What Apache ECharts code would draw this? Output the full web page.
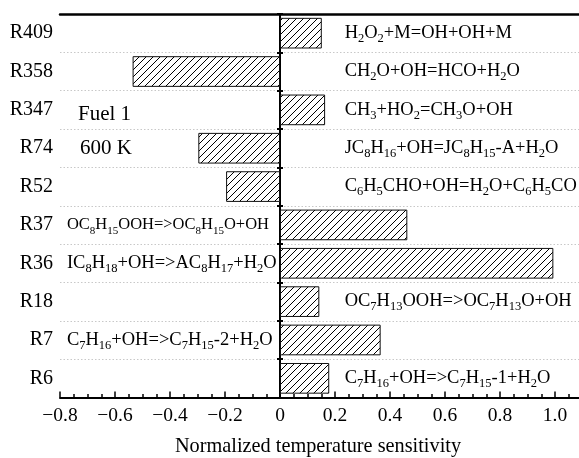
<!DOCTYPE html>
<html>
<head>
<meta charset="utf-8">
<script src="https://cdn.jsdelivr.net/npm/echarts@6/dist/echarts.min.js"></script>
<style>
  html, body { margin: 0; padding: 0; background: #fff; }
  #chart { width: 579px; height: 458px; }
</style>
</head>
<body>
<div id="chart"></div>
<script>
// Reaction labels, top to bottom
const reactions = ['R409', 'R358', 'R347', 'R74', 'R52', 'R37', 'R36', 'R18', 'R7', 'R6'];
// Normalized temperature sensitivity of each reaction
const sensitivity = [0.152, -0.536, 0.164, -0.297, -0.196, 0.463, 0.994, 0.143, 0.366, 0.179];
// Reaction equations ({s|..} marks a subscript)
const equations = [
  'H{s|2}O{s|2}+M=OH+OH+M',
  'CH{s|2}O+OH=HCO+H{s|2}O',
  'CH{s|3}+HO{s|2}=CH{s|3}O+OH',
  'JC{s|8}H{s|16}+OH=JC{s|8}H{s|15}-A+H{s|2}O',
  'C{s|6}H{s|5}CHO+OH=H{s|2}O+C{s|6}H{s|5}CO',
  'OC{s|8}H{s|15}OOH=>OC{s|8}H{s|15}O+OH',
  'IC{s|8}H{s|18}+OH=>AC{s|8}H{s|17}+H{s|2}O',
  'OC{s|7}H{s|13}OOH=>OC{s|7}H{s|13}O+OH',
  'C{s|7}H{s|16}+OH=>C{s|7}H{s|15}-2+H{s|2}O',
  'C{s|7}H{s|16}+OH=>C{s|7}H{s|15}-1+H{s|2}O'
];
// Case annotation
const caseLines = ['Fuel 1', '600 K'];
const axisTitle = 'Normalized temperature sensitivity';

const FONT = '"Liberation Serif", "Times New Roman", serif';

// Diagonal hatch fill for the bars
function hatchPattern(step) {
  const c = document.createElement('canvas');
  c.width = step; c.height = step;
  const g = c.getContext('2d');
  g.fillStyle = '#fff';
  g.fillRect(0, 0, step, step);
  g.strokeStyle = '#000';
  g.lineWidth = 1;
  g.beginPath();
  g.moveTo(0, step); g.lineTo(step, 0);
  g.moveTo(-step / 2, step / 2); g.lineTo(step / 2, -step / 2);
  g.moveTo(step / 2, step * 1.5); g.lineTo(step * 1.5, step / 2);
  g.stroke();
  return c;
}

function tickText(v) {
  if (v > 1.05) return '';
  if (Math.abs(v) < 1e-9) return '0';
  return (v < 0 ? '\u2212' : '') + Math.abs(v).toFixed(1);
}

const subStyle = (size) => ({ fontSize: size, verticalAlign: 'bottom', lineHeight: size - 0.5, fontFamily: FONT, color: '#000' });

// Equations of long positive bars go on the empty left side, others on the right
const LEFT_X = -0.775, RIGHT_X = 0.235;
const compactLabels = { R37: { fontSize: 16.5, rich: { s: subStyle(11) } } };
const annotationData = reactions.map((r, i) => {
  const item = { value: [sensitivity[i] > 0.3 ? LEFT_X : RIGHT_X, r] };
  if (compactLabels[r]) item.label = compactLabels[r];
  return item;
});

const valueAxisBase = { type: 'value', min: -0.8, max: 1.2, interval: 0.2 };
const catAxisBase = { type: 'category', data: reactions, inverse: true };

const chart = echarts.init(document.getElementById('chart'), null, { renderer: 'canvas' });
chart.setOption({
  animation: false,
  backgroundColor: '#fff',
  grid: { left: 60, top: 14, width: 550, bottom: 60.5, containLabel: false, outerBoundsMode: 'none' },
  xAxis: [
    Object.assign({}, valueAxisBase, {
      position: 'bottom',
      axisLine: { show: true, lineStyle: { color: '#000', width: 2 } },
      axisTick: { show: true, inside: true, length: 6, lineStyle: { color: '#000', width: 1.5 } },
      minorTick: { show: true, splitNumber: 4, length: 3.5, lineStyle: { color: '#000', width: 1.5 } },
      axisLabel: { formatter: tickText, margin: 8, fontSize: 19.5, color: '#000', fontFamily: FONT },
      splitLine: { show: false },
      name: axisTitle,
      nameLocation: 'middle',
      nameGap: 39,
      nameTextStyle: { fontSize: 20.3, color: '#000', fontFamily: FONT, padding: [0, 34, 0, 0] }
    }),
    Object.assign({}, valueAxisBase, {
      position: 'top',
      axisLine: { show: true, lineStyle: { color: '#000', width: 2.5 } },
      axisTick: { show: false },
      axisLabel: { show: false },
      splitLine: { show: false }
    })
  ],
  yAxis: [
    Object.assign({}, catAxisBase, {
      position: 'left',
      axisLine: { show: false, onZero: false },
      axisTick: { show: false },
      axisLabel: { fontSize: 20, color: '#000', fontFamily: FONT, margin: 7 },
      splitLine: { show: true, lineStyle: { color: '#c8c8c8', width: 1, type: [1.5, 2] } }
    }),
    Object.assign({}, catAxisBase, {
      position: 'left',
      axisLine: { show: true, onZero: true, onZeroAxisIndex: 0, lineStyle: { color: '#000', width: 2 } },
      axisTick: { show: true, length: 3, lineStyle: { color: '#000', width: 2 } },
      axisLabel: { show: false },
      splitLine: { show: false }
    }),
    Object.assign({}, catAxisBase, {
      position: 'right',
      axisLine: { show: true, onZero: true, onZeroAxisIndex: 0, lineStyle: { color: '#000', width: 2 } },
      axisTick: { show: true, length: 3, lineStyle: { color: '#000', width: 2 } },
      axisLabel: { show: false },
      splitLine: { show: false }
    })
  ],
  series: [
    {
      type: 'bar',
      xAxisIndex: 0,
      yAxisIndex: 0,
      data: sensitivity,
      barWidth: '80%',
      itemStyle: { color: { image: hatchPattern(7), repeat: 'repeat' }, borderColor: '#111', borderWidth: 1 },
      silent: true,
      z: 2
    },
    {
      type: 'scatter',
      xAxisIndex: 0,
      yAxisIndex: 0,
      symbolSize: 0,
      silent: true,
      itemStyle: { opacity: 1 },
      data: annotationData,
      label: {
        show: true,
        position: 'right',
        distance: 0,
        formatter: p => equations[p.dataIndex],
        fontSize: 18.5,
        lineHeight: 24,
        color: '#000',
        opacity: 1,
        fontFamily: FONT,
        rich: { s: subStyle(12.5) }
      },
      z: 3
    }
  ],
  graphic: caseLines.map((t, i) => ({
    type: 'text',
    left: 78 + i * 2,
    top: 104 + i * 34,
    style: { text: t, fontSize: 21, fontFamily: FONT, fill: '#000' }
  }))
});
</script>
</body>
</html>
